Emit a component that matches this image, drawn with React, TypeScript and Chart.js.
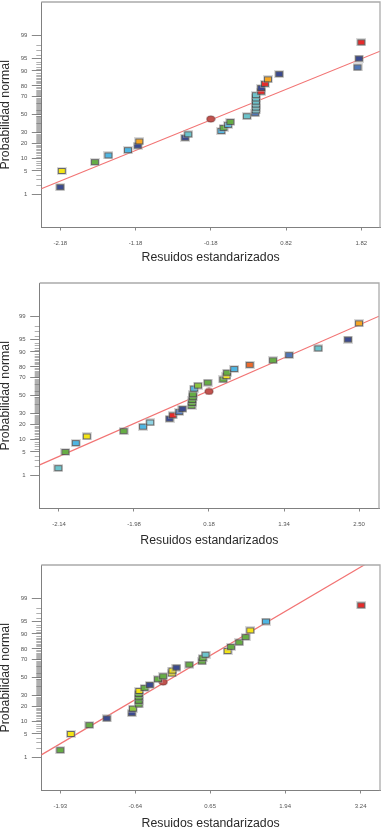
import React, { useEffect, useRef } from 'react';
import { Chart, registerables } from 'chart.js';

Chart.register(...registerables);

// ---------------- DATA ----------------
const yMajorPercents = [1, 5, 10, 20, 30, 50, 70, 80, 90, 95, 99];

const probabilities = [1.7, 5, 8.3, 11.7, 15, 18.3, 21.7, 25, 28.3, 31.7, 35, 38.3, 41.7, 45, 48.3, 51.7, 55, 58.3, 61.7, 65, 68.3, 71.7, 75, 78.3, 81.7, 85, 88.3, 91.7, 95, 98.3];

// Chart 1
const residuals1 = [-2.18, -2.16, -1.72, -1.54, -1.28, -1.15, -1.13, -0.52, -0.48, -0.04, -0.01, 0.05, 0.08, -0.18, 0.30, 0.41, 0.42, 0.42, 0.42, 0.42, 0.42, 0.42, 0.49, 0.49, 0.54, 0.58, 0.73, 1.77, 1.79, 1.82];
const colors1 = ['navy', 'yellow', 'green', 'cyan', 'cyan', 'navy', 'orange', 'navy', 'teal', 'cyan', 'green', 'cyan', 'green', 'mean', 'teal', 'blue', 'teal', 'teal', 'teal', 'teal', 'teal', 'teal', 'red', 'navy', 'red', 'orange', 'navy', 'blue', 'navy', 'red'];
const xTicks1 = [-2.18, -1.18, -0.18, 0.82, 1.82];
const xTickLabels1 = ['-2.18', '-1.18', '-0.18', '0.82', '1.82'];
const fitLineX1 = [-2.432, 2.069];
const fitLineZ1 = [-2.164, 1.86];

// Chart 2
const residuals2 = [-2.15, -2.04, -1.88, -1.71, -1.14, -0.84, -0.73, -0.43, -0.38, -0.28, -0.23, -0.09, -0.08, -0.08, -0.07, -0.07, 0.18, -0.05, 0.01, 0.16, 0.40, 0.45, 0.46, 0.57, 0.81, 1.17, 1.42, 1.87, 2.33, 2.50];
const colors2 = ['teal', 'green', 'cyan', 'yellow', 'green', 'cyan', 'pale', 'navy', 'red', 'blue', 'navy', 'green', 'green', 'green', 'green', 'green', 'mean', 'cyan', 'lime', 'green', 'green', 'yellow', 'green', 'cyan', 'orangered', 'green', 'blue', 'teal', 'navy', 'orange'];
const xTicks2 = [-2.14, -0.98, 0.18, 1.34, 2.50];
const xTickLabels2 = ['-2.14', '-1.98', '0.18', '1.34', '2.50'];
const fitLineX2 = [-2.438, 2.809];
const fitLineZ2 = [-2.023, 2.328];

// Chart 3
const residuals3 = [-1.93, -1.75, -1.43, -1.13, -0.70, -0.68, -0.58, -0.58, -0.58, -0.58, -0.57, -0.48, -0.39, -0.16, -0.25, -0.16, -0.01, 0.00, 0.07, 0.29, 0.51, 0.52, 0.57, 0.95, 1.01, 1.15, 1.26, 1.34, 1.61, 3.25];
const colors3 = ['green', 'yellow', 'green', 'navy', 'navy', 'lime', 'green', 'green', 'green', 'green', 'yellow', 'green', 'navy', 'mean', 'green', 'green', 'yellow', 'yellow', 'navy', 'green', 'green', 'green', 'teal', 'yellow', 'green', 'green', 'green', 'yellow', 'cyan', 'red'];
const xTicks3 = [-1.93, -0.64, 0.65, 1.94, 3.24];
const xTickLabels3 = ['-1.93', '-0.64', '0.65', '1.94', '3.24'];
const fitLineX3 = [-2.257, 3.573];
const fitLineZ3 = [-2.257, 3.573];

// ---------------- STYLES ----------------
const palette: Record<string, string> = {
  navy: '#3b4a8e',
  blue: '#5077b8',
  cyan: '#4fb6e3',
  teal: '#6cc4cc',
  pale: '#8fd4e4',
  green: '#66ad45',
  lime: '#8dc63f',
  yellow: '#f4e516',
  orange: '#f6a623',
  orangered: '#ec6a2c',
  red: '#e52b2b',
  mean: '#c2524e',
};

const FONT = "'Liberation Sans', Arial, Helvetica, sans-serif";

const charts = [
  { top: 0, plotLeft: 41.3, padRight: 2, titlePad: 16.6, residuals: residuals1, colors: colors1, xTicks: xTicks1, xLabels: xTickLabels1, lineX: fitLineX1, lineZ: fitLineZ1 },
  { top: 281, plotLeft: 39.7, padRight: 3, titlePad: 14.9, residuals: residuals2, colors: colors2, xTicks: xTicks2, xLabels: xTickLabels2, lineX: fitLineX2, lineZ: fitLineZ2 },
  { top: 563, plotLeft: 41.3, padRight: 2, titlePad: 13.8, residuals: residuals3, colors: colors3, xTicks: xTicks3, xLabels: xTickLabels3, lineX: fitLineX3, lineZ: fitLineZ3 },
];

const CANVAS_H = 282;
const PLOT_BOTTOM = 227.5;
const PLOT_TOP = 2;

// inverse normal CDF (Acklam)
function probit(pct: number): number {
  const p = pct / 100;
  const a = [-3.969683028665376e1, 2.209460984245205e2, -2.759285104469687e2, 1.38357751867269e2, -3.066479806614716e1, 2.506628277459239];
  const b = [-5.447609879822406e1, 1.615858368580409e2, -1.556989798598866e2, 6.680131188771972e1, -1.328068155288572e1];
  const c = [-7.784894002430293e-3, -3.223964580411365e-1, -2.400758277161838, -2.549732539343734, 4.374664141464968, 2.938163982698783];
  const d = [7.784695709041462e-3, 3.224671290700398e-1, 2.445134137142996, 3.754408661907416];
  const pl = 0.02425;
  if (p < pl) {
    const q = Math.sqrt(-2 * Math.log(p));
    return (((((c[0] * q + c[1]) * q + c[2]) * q + c[3]) * q + c[4]) * q + c[5]) / ((((d[0] * q + d[1]) * q + d[2]) * q + d[3]) * q + 1);
  }
  if (p <= 1 - pl) {
    const q = p - 0.5;
    const r = q * q;
    return ((((((a[0] * r + a[1]) * r + a[2]) * r + a[3]) * r + a[4]) * r + a[5]) * q) / (((((b[0] * r + b[1]) * r + b[2]) * r + b[3]) * r + b[4]) * r + 1);
  }
  const q = Math.sqrt(-2 * Math.log(1 - p));
  return -(((((c[0] * q + c[1]) * q + c[2]) * q + c[3]) * q + c[4]) * q + c[5]) / ((((d[0] * q + d[1]) * q + d[2]) * q + d[3]) * q + 1);
}

const minorPercents: number[] = [];
for (let p = 2; p <= 98; p++) if (!yMajorPercents.includes(p)) minorPercents.push(p);

function makeMarker(key: string): HTMLCanvasElement {
  const cv = document.createElement('canvas');
  cv.width = 10;
  cv.height = 8;
  const ctx = cv.getContext('2d')!;
  if (key === 'mean') {
    ctx.fillStyle = 'rgba(160,160,160,0.4)';
    ctx.beginPath();
    ctx.ellipse(5, 4, 5, 4, 0, 0, Math.PI * 2);
    ctx.fill();
    ctx.fillStyle = palette.mean;
    ctx.strokeStyle = '#8a3b38';
    ctx.lineWidth = 0.8;
    ctx.beginPath();
    ctx.ellipse(5, 4, 4, 2.9, 0, 0, Math.PI * 2);
    ctx.fill();
    ctx.stroke();
  } else {
    ctx.fillStyle = 'rgba(170,170,170,0.45)';
    ctx.fillRect(0, 0, 10, 8);
    ctx.fillStyle = 'rgba(55,55,55,0.7)';
    ctx.fillRect(1, 1, 8, 6);
    ctx.fillStyle = palette[key];
    ctx.fillRect(2, 2, 6, 4);
  }
  return cv;
}

const framePlugin = {
  id: 'frame',
  afterDraw(chart: any) {
    const { ctx, chartArea: a, scales } = chart;
    ctx.save();
    ctx.strokeStyle = '#ababab';
    ctx.lineWidth = 1.3;
    ctx.beginPath();
    ctx.moveTo(a.left, a.top);
    ctx.lineTo(a.right, a.top);
    ctx.lineTo(a.right, a.bottom);
    ctx.stroke();
    ctx.strokeStyle = 'rgba(110,110,110,0.55)';
    ctx.lineWidth = 1;
    for (const p of minorPercents) {
      const y = Math.round(scales.y.getPixelForValue(probit(p))) + 0.5;
      ctx.beginPath();
      ctx.moveTo(a.left - 5, y);
      ctx.lineTo(a.left, y);
      ctx.stroke();
    }
    ctx.restore();
  },
};

function ProbPlot({ cfg }: { cfg: typeof charts[number] }) {
  const ref = useRef<HTMLCanvasElement>(null);
  useEffect(() => {
    if (!ref.current) return;
    const markers = cfg.colors.map((k) => makeMarker(k));
    const points = cfg.residuals.map((r, i) => ({ x: r, y: probit(probabilities[i]) }));
    const line = cfg.lineX.map((x, i) => ({ x, y: cfg.lineZ[i] }));
    const chart = new Chart(ref.current, {
      type: 'scatter',
      data: {
        datasets: [
          {
            data: points,
            pointStyle: markers as any,
            pointRadius: 4,
            pointHoverRadius: 4,
            clip: 6,
          },
          {
            data: line,
            showLine: true,
            borderColor: '#f27474',
            borderWidth: 1.2,
            pointRadius: 0,
            pointHoverRadius: 0,
          } as any,
        ],
      },
      options: {
        animation: false,
        responsive: false,
        devicePixelRatio: 1,
        events: [],
        layout: { autoPadding: false, padding: { top: PLOT_TOP, right: cfg.padRight, bottom: 0, left: 0 } },
        plugins: { legend: { display: false }, tooltip: { enabled: false } },
        scales: {
          x: {
            type: 'linear',
            min: cfg.lineX[0],
            max: cfg.lineX[1],
            afterBuildTicks: (s: any) => {
              s.ticks = cfg.xTicks.map((v) => ({ value: v }));
            },
            afterFit: (s: any) => {
              s.height = CANVAS_H - PLOT_BOTTOM;
              s.paddingLeft = 0;
              s.paddingRight = 0;
            },
            ticks: {
              autoSkip: false,
              maxRotation: 0,
              padding: 9,
              color: '#555',
              font: { size: 6, family: FONT },
              callback: (_v: any, i: number) => cfg.xLabels[i],
            },
            grid: { drawOnChartArea: false, drawTicks: true, tickLength: 3, color: '#888' },
            border: { color: '#808080', width: 1 },
            title: {
              display: true,
              text: 'Resuidos estandarizados',
              color: '#2a2a2a',
              font: { size: 12.3, family: FONT, lineHeight: 1.2 },
              padding: { top: 0, bottom: cfg.titlePad },
            },
          },
          y: {
            type: 'linear',
            min: -3.3,
            max: 3.3,
            afterBuildTicks: (s: any) => {
              s.ticks = yMajorPercents.map((p) => ({ value: probit(p) }));
            },
            afterFit: (s: any) => {
              s.width = cfg.plotLeft;
              s.paddingTop = 0;
              s.paddingBottom = 0;
            },
            ticks: {
              autoSkip: false,
              padding: 4.5,
              color: '#555',
              font: { size: 6, family: FONT },
              callback: (_v: any, i: number) => String(yMajorPercents[i]),
            },
            grid: { drawOnChartArea: false, drawTicks: true, tickLength: 9.5, color: '#888' },
            border: { color: '#808080', width: 1 },
            title: {
              display: true,
              text: 'Probabilidad normal',
              color: '#2a2a2a',
              font: { size: 12.3, family: FONT, lineHeight: 0.9 },
              padding: 0,
            },
          },
        },
      },
      plugins: [framePlugin],
    } as any);
    return () => chart.destroy();
  }, [cfg]);
  return (
    <canvas
      ref={ref}
      width={382}
      height={CANVAS_H}
      style={{ position: 'absolute', left: 0, top: cfg.top, width: 382, height: CANVAS_H, display: 'block' }}
    />
  );
}

export default function App() {
  return (
    <div style={{ position: 'absolute', left: 0, top: 0, width: 382, height: 829, overflow: 'hidden', background: '#fff' }}>
      {charts.map((c, i) => (
        <ProbPlot key={i} cfg={c} />
      ))}
    </div>
  );
}
